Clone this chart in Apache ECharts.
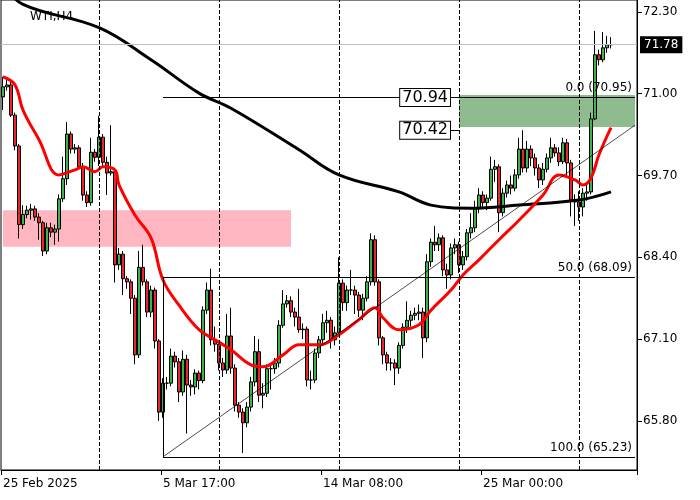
<!DOCTYPE html>
<html><head><meta charset="utf-8">
<script src="https://cdn.jsdelivr.net/npm/echarts@6/dist/echarts.min.js"></script>
<style>html,body{margin:0;padding:0;background:#fff}#c{width:700px;height:500px}</style>
</head><body><div id="c"></div>
<script>
const opens=[70.95,71.11,71.14,70.66,70.17,68.92,69.08,69.15,69.17,69.04,68.95,68.50,68.87,68.80,68.85,69.33,69.65,70.36,70.12,70.14,69.84,69.39,69.27,70.07,69.99,70.31,69.91,69.74,69.76,68.28,68.45,68.06,68.01,67.75,66.85,68.24,68.01,67.53,67.88,67.07,65.94,66.40,66.40,66.83,66.74,66.26,66.78,66.37,66.34,66.56,66.44,67.56,67.88,67.09,67.02,66.72,66.61,67.15,66.64,66.05,65.94,65.77,66.02,66.42,66.90,66.21,66.24,66.63,66.63,66.72,67.32,67.66,67.71,67.53,67.45,67.25,67.26,66.45,66.45,66.88,67.09,67.36,67.40,67.09,67.20,67.99,67.68,67.88,67.88,67.80,67.56,67.75,68.01,68.68,68.01,67.12,66.85,66.72,66.72,66.64,67.00,67.29,67.40,67.48,67.51,67.53,67.12,68.33,68.64,68.60,68.71,68.20,68.12,68.55,68.60,68.28,68.41,68.79,68.87,69.19,69.39,69.27,69.34,69.80,69.84,69.11,69.42,69.55,69.50,69.71,70.12,69.82,70.12,69.98,69.82,69.63,69.80,69.98,70.14,70.06,69.92,70.22,69.90,69.31,69.28,69.20,69.42,69.44,70.60,71.62,71.54,71.73,71.78];
const closes=[71.11,71.14,70.66,70.17,68.92,69.08,69.15,69.17,69.04,68.95,68.50,68.87,68.80,68.85,69.33,69.65,70.36,70.12,70.14,69.84,69.39,69.27,70.07,69.99,70.31,69.91,69.74,69.76,68.28,68.45,68.06,68.01,67.75,66.85,68.24,68.01,67.53,67.88,67.07,65.94,66.40,66.40,66.83,66.74,66.26,66.78,66.37,66.34,66.56,66.44,67.56,67.88,67.09,67.02,66.72,66.61,67.15,66.64,66.05,65.94,65.77,66.02,66.42,66.90,66.21,66.24,66.63,66.63,66.72,67.32,67.66,67.71,67.53,67.45,67.25,67.26,66.45,66.45,66.88,67.09,67.36,67.40,67.09,67.20,67.99,67.68,67.88,67.88,67.80,67.56,67.75,68.01,68.68,68.01,67.12,66.85,66.72,66.72,66.64,67.00,67.29,67.40,67.48,67.51,67.53,67.12,68.33,68.64,68.60,68.71,68.20,68.12,68.55,68.60,68.28,68.41,68.79,68.87,69.19,69.39,69.27,69.34,69.80,69.84,69.11,69.42,69.55,69.50,69.71,70.12,69.82,70.12,69.98,69.82,69.63,69.80,69.98,70.14,70.06,69.92,70.22,69.90,69.31,69.28,69.20,69.42,69.44,70.60,71.62,71.54,71.73,71.78,71.78];
const highs=[71.27,71.22,71.20,70.70,70.20,69.23,69.22,69.25,69.22,69.10,68.98,68.95,68.95,68.92,69.40,70.00,70.55,70.40,70.20,70.18,69.90,69.45,70.30,70.12,70.65,70.36,70.00,70.50,69.80,68.55,68.50,68.10,68.05,67.80,68.50,68.60,68.05,67.95,67.92,67.10,66.48,66.50,66.95,66.90,66.80,66.92,66.85,66.45,66.62,66.60,67.62,68.00,68.22,67.30,67.08,66.80,67.50,67.60,66.70,66.10,66.00,66.10,66.50,67.15,67.10,66.40,66.70,66.70,66.80,67.40,67.88,67.80,67.78,67.60,67.90,67.35,67.30,66.60,66.95,67.15,67.50,67.55,67.45,67.30,68.40,68.05,67.95,68.20,67.95,67.85,67.82,68.10,68.78,68.75,68.05,67.15,66.90,66.80,66.78,67.05,67.35,67.70,67.55,67.60,67.65,67.60,68.45,68.70,68.90,68.78,68.75,68.30,68.62,68.70,68.65,68.50,68.85,69.10,69.30,69.50,69.45,69.40,70.00,69.95,69.88,69.50,69.62,69.70,69.80,70.30,70.42,70.25,70.18,70.05,69.88,69.90,70.05,70.30,70.20,70.15,70.30,70.28,69.95,69.40,69.45,69.50,69.55,70.70,72.00,71.70,71.98,71.92,71.90];
const lows=[70.74,71.05,70.63,70.10,68.70,68.85,69.02,69.00,68.98,68.68,68.42,68.45,68.72,68.60,68.65,69.28,69.55,70.05,70.05,69.80,69.30,69.20,69.22,69.92,69.85,69.85,69.39,69.70,68.00,68.20,67.80,67.90,67.50,66.70,66.80,67.95,67.45,67.45,66.95,65.80,65.85,66.30,66.35,66.65,66.10,66.20,65.60,66.20,66.22,66.30,66.40,67.50,67.00,66.90,66.60,66.50,66.55,66.55,65.95,65.85,65.29,65.70,65.95,66.35,66.10,66.00,66.18,66.30,66.55,66.65,67.28,67.60,67.45,67.30,67.20,67.10,66.35,66.30,66.40,66.80,67.00,67.20,66.95,67.00,67.15,67.55,67.55,67.80,67.50,67.45,67.40,67.70,67.95,67.95,67.00,66.70,66.60,66.60,66.37,66.55,66.95,67.20,67.30,67.40,67.40,66.80,67.05,68.25,68.50,68.50,68.10,67.90,68.05,68.45,68.15,68.20,68.35,68.70,68.80,69.10,69.20,69.15,69.30,69.60,68.80,69.05,69.35,69.40,69.45,69.65,69.75,69.75,69.85,69.70,69.50,69.55,69.75,69.90,70.00,69.85,69.88,69.70,69.05,68.90,68.98,69.05,69.30,69.40,70.58,71.45,71.50,71.65,71.72];
const redIdx=[0,3,5,9,14,18,20,23,25,28,29,33,37,40,44,49,53,57,62,65,70,74,79,84,89,93,95,99,104,107,112,115,119,124,129,135,139,143,145,147,149,152];
const redVal=[71.27,71.14,70.74,70.27,69.71,69.79,69.84,69.76,69.84,69.79,69.55,69.07,68.71,68.04,67.64,67.25,67.09,66.93,66.69,66.66,66.85,67.01,67.01,67.17,67.41,67.60,67.44,67.25,67.33,67.56,67.88,68.12,68.36,68.68,68.99,69.39,69.71,69.63,69.55,69.66,70.03,70.46];
const blkIdx=[0,5,24,37,49,57,74,84,99,107,117,129,144,152];
const blkVal=[72.75,72.42,72.05,71.54,71.01,70.77,70.11,69.71,69.44,69.23,69.18,69.23,69.31,69.44];
const N=159;
const xLabels={0:'25 Feb 2025',40:'5 Mar 17:00',80:'14 Mar 08:00',120:'25 Mar 00:00'};
const yTicks=[65.80,67.10,68.40,69.70,71.00,72.30];
const fib={top:70.95,mid:68.09,low:65.23,lineEnd:70.50};
const zoneHi=[70.98,70.47], zoneLo=[69.15,68.57];
const lastPrice=71.78;

const cats=[];for(let i=0;i<N;i++)cats.push(String(i));
const candle=[];for(let i=0;i<N;i++)candle.push(i<closes.length?[opens[i],closes[i],lows[i],highs[i]]:'-');
const F='DejaVu Sans';
const chart=echarts.init(document.getElementById('c'));
const thin={color:'#000',width:1,type:'solid'};
chart.setOption({
animation:false,
title:{text:'WTI,H4',left:25,top:6,textStyle:{fontFamily:F,fontSize:12,fontWeight:'normal',color:'#000'}},
grid:{left:1,right:63,top:0,bottom:30,show:true,borderColor:'#000',borderWidth:1,backgroundColor:'transparent'},
xAxis:{type:'category',data:cats,boundaryGap:true,
 axisLine:{lineStyle:{color:'#000'}},
 axisTick:{show:true,interval:(i)=>i in xLabels,lineStyle:{color:'#000'}},
 axisLabel:{interval:(i)=>i in xLabels,formatter:(v,i)=>xLabels[i]||'',align:'left',fontFamily:F,fontSize:12,color:'#000',margin:8},
 splitLine:{show:false}},
yAxis:{type:'value',position:'right',min:65.02,max:72.49,scale:true,
 axisLine:{show:true,lineStyle:{color:'#000'}},
 axisTick:{show:true,customValues:yTicks,lineStyle:{color:'#000'}},
 axisLabel:{customValues:yTicks,formatter:v=>v.toFixed(2),fontFamily:F,fontSize:12,color:'#000',margin:6},
 splitLine:{show:false}},
series:[
{type:'candlestick',data:candle,barWidth:3,
 itemStyle:{color:'#3cb44b',color0:'#e8262b',borderColor:'#000',borderColor0:'#000',borderWidth:1},
 markArea:{silent:true,data:[
  [{coord:[0,zoneLo[0]],itemStyle:{color:'#ffb6c1'}},{coord:[72,zoneLo[1]]}],
  [{coord:[114,zoneHi[0]],itemStyle:{color:'#8fbc8f'}},{coord:[N-1,zoneHi[1]]}]
 ]},
 markLine:{silent:true,symbol:['none','none'],animation:false,data:[
  {xAxis:'24',lineStyle:{color:'#000',type:'dashed',width:1},label:{show:false}},
  {xAxis:'54',lineStyle:{color:'#000',type:'dashed',width:1},label:{show:false}},
  {xAxis:'84',lineStyle:{color:'#000',type:'dashed',width:1},label:{show:false}},
  {xAxis:'114',lineStyle:{color:'#000',type:'dashed',width:1},label:{show:false}},
  {xAxis:'144',lineStyle:{color:'#000',type:'dashed',width:1},label:{show:false}},
  {yAxis:lastPrice,lineStyle:{color:'#c0c0c0',type:'solid',width:1},label:{show:true,position:'end',formatter:'71.78',backgroundColor:'#000',color:'#fff',fontFamily:F,fontSize:12,padding:[3,4,2,4],distance:3}},
  [{coord:[40,fib.top],lineStyle:thin,label:{show:true,position:'insideEndTop',formatter:'0.0 (70.95)',fontFamily:F,fontSize:12,color:'#000',distance:3}},{coord:[N-1,fib.top]}],
  [{coord:[40,fib.mid],lineStyle:thin,label:{show:true,position:'insideEndTop',formatter:'50.0 (68.09)',fontFamily:F,fontSize:12,color:'#000',distance:3}},{coord:[N-1,fib.mid]}],
  [{coord:[40,fib.low],lineStyle:thin,label:{show:true,position:'insideEndTop',formatter:'100.0 (65.23)',fontFamily:F,fontSize:12,color:'#000',distance:3}},{coord:[N-1,fib.low]}],
  [{coord:[40,fib.low],lineStyle:thin,label:{show:false}},{coord:[40,fib.mid]}],
  [{coord:[40,fib.low],lineStyle:{color:'#000',width:0.7,type:'solid'},label:{show:false}},{coord:[N-1,fib.lineEnd]}],
  [{coord:[112,70.94],lineStyle:thin,label:{show:true,position:'start',formatter:'70.94',fontFamily:F,fontSize:16,color:'#000',backgroundColor:'#fff',borderColor:'#000',borderWidth:1,padding:[1,2,0,2],distance:1}},{coord:[114,70.94]}],
  [{coord:[112,70.42],lineStyle:thin,label:{show:true,position:'start',formatter:'70.42',fontFamily:F,fontSize:16,color:'#000',backgroundColor:'#fff',borderColor:'#000',borderWidth:1,padding:[1,2,0,2],distance:1}},{coord:[114,70.42]}]
 ]}
},
{type:'line',data:blkIdx.map((k,i)=>[k,blkVal[i]]),smooth:0.4,showSymbol:false,lineStyle:{color:'#000',width:3},z:3},
{type:'line',data:redIdx.map((k,i)=>[k,redVal[i]]),smooth:0.4,showSymbol:false,lineStyle:{color:'#ff0000',width:3},z:4}
]});
</script></body></html>
